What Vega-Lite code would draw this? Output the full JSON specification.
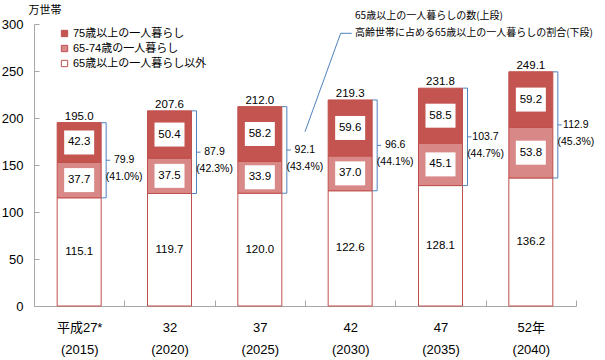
{
  "$schema": "https://vega.github.io/schema/vega-lite/v6.json",
  "width": 542,
  "height": 282,
  "autosize": "none",
  "padding": {"left": 34, "top": 24, "right": 29, "bottom": 54},
  "background": "white",
  "config": {"view": {"stroke": null}, "text": {"font": "Liberation Sans, Noto Sans CJK JP", "color": "#000000"}},
  "datasets": {
    "seg": [
      {"year": "2015", "group": "65歳以上の一人暮らし以外", "v": 115.1},
      {"year": "2015", "group": "65-74歳の一人暮らし", "v": 37.7},
      {"year": "2015", "group": "75歳以上の一人暮らし", "v": 42.3},
      {"year": "2020", "group": "65歳以上の一人暮らし以外", "v": 119.7},
      {"year": "2020", "group": "65-74歳の一人暮らし", "v": 37.5},
      {"year": "2020", "group": "75歳以上の一人暮らし", "v": 50.4},
      {"year": "2025", "group": "65歳以上の一人暮らし以外", "v": 120.0},
      {"year": "2025", "group": "65-74歳の一人暮らし", "v": 33.9},
      {"year": "2025", "group": "75歳以上の一人暮らし", "v": 58.2},
      {"year": "2030", "group": "65歳以上の一人暮らし以外", "v": 122.6},
      {"year": "2030", "group": "65-74歳の一人暮らし", "v": 37.0},
      {"year": "2030", "group": "75歳以上の一人暮らし", "v": 59.6},
      {"year": "2035", "group": "65歳以上の一人暮らし以外", "v": 128.1},
      {"year": "2035", "group": "65-74歳の一人暮らし", "v": 45.1},
      {"year": "2035", "group": "75歳以上の一人暮らし", "v": 58.5},
      {"year": "2040", "group": "65歳以上の一人暮らし以外", "v": 136.2},
      {"year": "2040", "group": "65-74歳の一人暮らし", "v": 53.8},
      {"year": "2040", "group": "75歳以上の一人暮らし", "v": 59.2}
    ],
    "br": [
      {"year": "2015", "part": "base", "v": 115.1},
      {"year": "2015", "part": "alone", "v": 79.9, "pct": 41.0},
      {"year": "2020", "part": "base", "v": 119.7},
      {"year": "2020", "part": "alone", "v": 87.9, "pct": 42.3},
      {"year": "2025", "part": "base", "v": 120.0},
      {"year": "2025", "part": "alone", "v": 92.1, "pct": 43.4},
      {"year": "2030", "part": "base", "v": 122.6},
      {"year": "2030", "part": "alone", "v": 96.6, "pct": 44.1},
      {"year": "2035", "part": "base", "v": 128.1},
      {"year": "2035", "part": "alone", "v": 103.7, "pct": 44.7},
      {"year": "2040", "part": "base", "v": 136.2},
      {"year": "2040", "part": "alone", "v": 112.9, "pct": 45.3}
    ],
    "tot": [
      {"year": "2015", "v": 195.0},
      {"year": "2020", "v": 207.6},
      {"year": "2025", "v": 212.0},
      {"year": "2030", "v": 219.3},
      {"year": "2035", "v": 231.8},
      {"year": "2040", "v": 249.1}
    ],
    "note": [
      {"px": 3.554, "v": 308.5, "t": "65歳以上の一人暮らしの数(上段)"},
      {"px": 3.554, "v": 290.4, "t": "高齢世帯に占める65歳以上の一人暮らしの割合(下段)"}
    ],
    "lead": [
      {"px": 3.0, "v": 185.4},
      {"px": 3.395, "v": 290.1},
      {"px": 3.517, "v": 290.1}
    ]
  },
  "resolve": {"scale": {"x": "independent"}, "axis": {"x": "independent"}},
  "layer": [
    {
      "layer": [
        {
          "data": {"name": "seg"},
          "transform": [{"calculate": "indexof(['65歳以上の一人暮らし以外','65-74歳の一人暮らし','75歳以上の一人暮らし'], datum.group)", "as": "o"}],
          "mark": {"type": "bar", "size": 44, "stroke": "#C0504D", "strokeWidth": 1},
          "encoding": {
            "x": {
              "field": "year", "type": "nominal", "sort": null,
              "scale": {"domain": ["2015", "2020", "2025", "2030", "2035", "2040"], "paddingInner": 0, "paddingOuter": 0},
              "axis": {
                "title": null, "labelAngle": 0, "domainColor": "#A6A6A6", "tickColor": "#A6A6A6",
                "tickBand": "extent", "tickSize": -6, "labelPadding": 27,
                "labelFont": "Liberation Sans, Noto Sans CJK JP", "labelFontSize": 13, "labelColor": "#000000",
                "labelLineHeight": 22, "labelBaseline": "middle",
                "labelExpr": "isValid(datum.value) ? [datum.value == '2015' ? '平成27*' : datum.value == '2040' ? '52年' : '' + (toNumber(datum.value) - 1988), '(' + datum.value + ')'] : ''"
              }
            },
            "y": {
              "field": "v", "type": "quantitative", "stack": "zero",
              "scale": {"domain": [0, 300]},
              "axis": {
                "title": "万世帯", "titleAngle": 0, "titleAlign": "left", "titleBaseline": "middle",
                "titleX": -6, "titleY": -14, "titleFont": "Noto Sans CJK JP", "titleFontSize": 11,
                "titleFontWeight": "normal", "titleColor": "#000000",
                "values": [0, 50, 100, 150, 200, 250, 300], "grid": false,
                "domainColor": "#A6A6A6", "tickColor": "#A6A6A6", "tickSize": -5, "labelPadding": 16,
                "labelFont": "Liberation Sans", "labelFontSize": 13, "labelColor": "#000000"
              }
            },
            "color": {
              "field": "group", "type": "nominal",
              "scale": {"domain": ["75歳以上の一人暮らし", "65-74歳の一人暮らし", "65歳以上の一人暮らし以外"], "range": ["#C45450", "#D88886", "#FFFFFF"]},
              "legend": {
                "title": null, "orient": "none", "legendX": 25, "legendY": 4, "padding": 0,
                "symbolType": "square", "symbolSize": 40, "symbolStrokeColor": "#C0504D", "symbolStrokeWidth": 1,
                "labelFont": "Liberation Sans, Noto Sans CJK JP", "labelFontSize": 11, "labelColor": "#000000",
                "labelOffset": 3, "rowPadding": 3
              }
            },
            "order": {"field": "o", "type": "quantitative"}
          }
        },
        {
          "data": {"name": "seg"},
          "transform": [{"calculate": "indexof(['65歳以上の一人暮らし以外','65-74歳の一人暮らし','75歳以上の一人暮らし'], datum.group)", "as": "o"}],
          "mark": {"type": "point", "shape": "M-1,-0.8H1V0.8H-1Z", "size": 900, "filled": true, "fill": "#FFFFFF", "strokeWidth": 0},
          "encoding": {
            "x": {"field": "year", "type": "nominal", "sort": null},
            "y": {"field": "v", "type": "quantitative", "stack": "zero", "bandPosition": 0.5},
            "order": {"field": "o", "type": "quantitative"},
            "opacity": {"condition": {"test": "datum.o == 0", "value": 0}, "value": 1}
          }
        },
        {
          "data": {"name": "seg"},
          "transform": [{"calculate": "indexof(['65歳以上の一人暮らし以外','65-74歳の一人暮らし','75歳以上の一人暮らし'], datum.group)", "as": "o"}],
          "mark": {"type": "text", "fontSize": 11.5, "baseline": "middle"},
          "encoding": {
            "x": {"field": "year", "type": "nominal", "sort": null},
            "y": {"field": "v", "type": "quantitative", "stack": "zero", "bandPosition": 0.5},
            "order": {"field": "o", "type": "quantitative"},
            "text": {"field": "v", "type": "quantitative", "format": ".1f"}
          }
        },
        {
          "data": {"name": "tot"},
          "mark": {"type": "text", "fontSize": 11.5, "baseline": "bottom", "dy": -1},
          "encoding": {
            "x": {"field": "year", "type": "nominal", "sort": null},
            "y": {"field": "v", "type": "quantitative"},
            "text": {"field": "v", "type": "quantitative", "format": ".1f"}
          }
        },
        {
          "data": {"name": "br"},
          "mark": {"type": "rule", "xOffset": 27, "color": "#4F81BD", "strokeWidth": 1},
          "encoding": {
            "x": {"field": "year", "type": "nominal", "sort": null},
            "y": {"field": "v", "type": "quantitative", "stack": "zero"},
            "order": {"field": "part", "sort": "descending"},
            "opacity": {"condition": {"test": "datum.part == 'base'", "value": 0}, "value": 1}
          }
        },
        {
          "data": {"name": "br"},
          "mark": {"type": "tick", "orient": "horizontal", "size": 5, "thickness": 1, "xOffset": 24.5, "color": "#4F81BD"},
          "encoding": {
            "x": {"field": "year", "type": "nominal", "sort": null},
            "y": {"field": "v", "type": "quantitative", "stack": "zero", "bandPosition": 0},
            "order": {"field": "part", "sort": "descending"},
            "opacity": {"condition": {"test": "datum.part == 'base'", "value": 0}, "value": 1}
          }
        },
        {
          "data": {"name": "br"},
          "mark": {"type": "tick", "orient": "horizontal", "size": 5, "thickness": 1, "xOffset": 24.5, "color": "#4F81BD"},
          "encoding": {
            "x": {"field": "year", "type": "nominal", "sort": null},
            "y": {"field": "v", "type": "quantitative", "stack": "zero", "bandPosition": 1},
            "order": {"field": "part", "sort": "descending"},
            "opacity": {"condition": {"test": "datum.part == 'base'", "value": 0}, "value": 1}
          }
        },
        {
          "data": {"name": "br"},
          "mark": {"type": "tick", "orient": "horizontal", "size": 4, "thickness": 1, "xOffset": 29, "color": "#4F81BD"},
          "encoding": {
            "x": {"field": "year", "type": "nominal", "sort": null},
            "y": {"field": "v", "type": "quantitative", "stack": "zero", "bandPosition": 0.5},
            "order": {"field": "part", "sort": "descending"},
            "opacity": {"condition": {"test": "datum.part == 'base'", "value": 0}, "value": 1}
          }
        },
        {
          "data": {"name": "br"},
          "transform": [{"calculate": "datum.part == 'alone' ? [format(datum.v, '.1f'), '(' + format(datum.pct, '.1f') + '%)'] : ''", "as": "lbl"}],
          "mark": {"type": "text", "fontSize": 10.5, "xOffset": 45, "lineHeight": 17, "baseline": "middle"},
          "encoding": {
            "x": {"field": "year", "type": "nominal", "sort": null},
            "y": {"field": "v", "type": "quantitative", "stack": "zero", "bandPosition": 0.5},
            "order": {"field": "part", "sort": "descending"},
            "text": {"field": "lbl"}
          }
        }
      ]
    },
    {
      "layer": [
        {
          "data": {"name": "lead"},
          "mark": {"type": "line", "color": "#4F81BD", "strokeWidth": 1},
          "encoding": {
            "x": {"field": "px", "type": "quantitative", "scale": {"domain": [0, 6]}, "axis": null},
            "y": {"field": "v", "type": "quantitative", "scale": {"domain": [0, 300]}}
          }
        },
        {
          "data": {"name": "note"},
          "mark": {"type": "text", "align": "left", "baseline": "middle", "font": "Noto Sans CJK JP", "fontSize": 10},
          "encoding": {
            "x": {"field": "px", "type": "quantitative", "scale": {"domain": [0, 6]}, "axis": null},
            "y": {"field": "v", "type": "quantitative", "scale": {"domain": [0, 300]}},
            "text": {"field": "t"}
          }
        }
      ]
    }
  ]
}
